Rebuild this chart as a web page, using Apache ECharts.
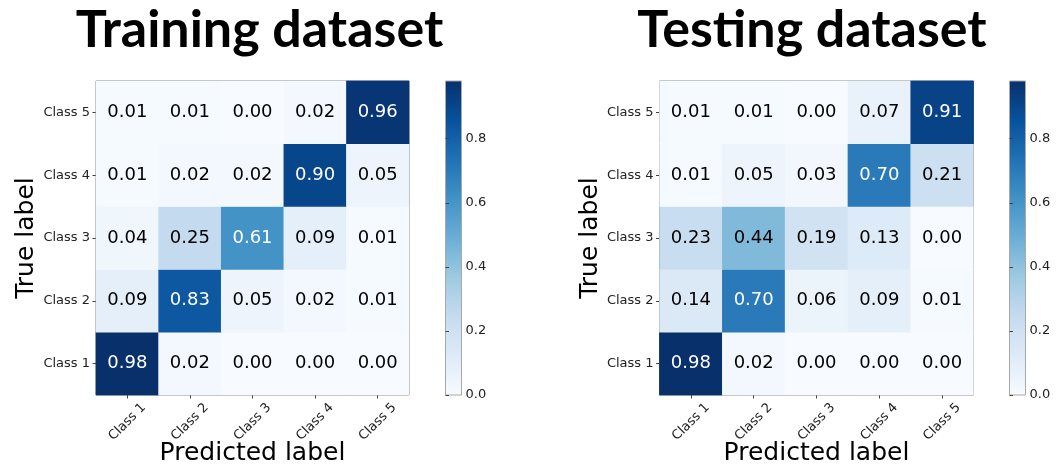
<!DOCTYPE html>
<html>
<head>
<meta charset="utf-8">
<script src="https://cdn.jsdelivr.net/npm/echarts@6/dist/echarts.min.js"></script>
<style>html,body{margin:0;padding:0;background:#fff;}#c{width:1061px;height:466px;}</style>
</head>
<body>
<div id="c"></div>
<script>
const classes = ['Class 1', 'Class 2', 'Class 3', 'Class 4', 'Class 5'];
// rows = true label (Class 1 first), columns = predicted label
const trainMatrix = [
  [0.98, 0.02, 0.00, 0.00, 0.00],
  [0.09, 0.83, 0.05, 0.02, 0.01],
  [0.04, 0.25, 0.61, 0.09, 0.01],
  [0.01, 0.02, 0.02, 0.90, 0.05],
  [0.01, 0.01, 0.00, 0.02, 0.96]
];
const testMatrix = [
  [0.98, 0.02, 0.00, 0.00, 0.00],
  [0.14, 0.70, 0.06, 0.09, 0.01],
  [0.23, 0.44, 0.19, 0.13, 0.00],
  [0.01, 0.05, 0.03, 0.70, 0.21],
  [0.01, 0.01, 0.00, 0.07, 0.91]
];
const colorbarTicks = [0, 0.2, 0.4, 0.6, 0.8];
const colorMin = 0;
const colorMax = 0.98;
const titles = ['Training dataset', 'Testing dataset'];
const xName = 'Predicted label';
const yName = 'True label';

const blues = ['#f7fbff','#deebf7','#c6dbef','#9ecae1','#6baed6','#4292c6','#2171b5','#08519c','#08306b'];
const FONT = 'DejaVu Sans';

function toData(m) {
  const out = [];
  const thresh = colorMax / 2;
  m.forEach((row, yi) => row.forEach((v, xi) => {
    out.push({ value: [xi, yi, v], label: { color: v > thresh ? '#ffffff' : '#000000' } });
  }));
  return out;
}

const chart = echarts.init(document.getElementById('c'), null, { renderer: 'canvas' });
const grad = new echarts.graphic.LinearGradient(0, 1, 0, 0,
  blues.map((c, i) => ({ offset: i / (blues.length - 1), color: c })));

const plotGrids = [
  { left: 96, top: 81, width: 313, height: 314 },
  { left: 659.5, top: 81, width: 314, height: 314 }
];
const cbGrids = [
  { left: 445.5, top: 81, width: 16, height: 314 },
  { left: 1009.5, top: 81, width: 16, height: 314 }
];

const grid = [], xAxis = [], yAxis = [], series = [], graphic = [];
[trainMatrix, testMatrix].forEach((m, k) => {
  const pg = plotGrids[k];
  grid.push(Object.assign({ show: true, outerBoundsMode: 'none', containLabel: false, borderColor: '#6e6e6e', borderWidth: 1, backgroundColor: 'transparent' }, pg));
  grid.push(Object.assign({ show: true, outerBoundsMode: 'none', containLabel: false, borderColor: '#a8a8a8', borderWidth: 1, backgroundColor: grad }, cbGrids[k]));
  const gi = k * 2;
  xAxis.push({
    type: 'category', data: classes, gridIndex: gi, position: 'bottom',
    axisLine: { show: false },
    axisTick: { show: true, alignWithLabel: true, length: 3.5, lineStyle: { color: '#444' } },
    axisLabel: { rotate: 45, align: 'center', verticalAlign: 'middle', fontFamily: FONT, fontSize: 13, color: '#222', margin: 27 },
    splitLine: { show: false }, splitArea: { show: false }
  });
  yAxis.push({
    type: 'category', data: classes, gridIndex: gi,
    name: yName, nameLocation: 'middle', nameGap: 55, nameRotate: 90,
    nameTextStyle: { fontFamily: FONT, fontSize: 25, color: '#000' },
    axisLine: { show: false },
    axisTick: { show: true, alignWithLabel: true, length: 3.5, lineStyle: { color: '#444' } },
    axisLabel: { fontFamily: FONT, fontSize: 13, color: '#222', margin: 6 },
    splitLine: { show: false }, splitArea: { show: false }
  });
  xAxis.push({ type: 'value', gridIndex: gi + 1, show: false, min: 0, max: 1 });
  yAxis.push({
    type: 'value', gridIndex: gi + 1, position: 'right', min: colorMin, max: colorMax,
    axisLine: { show: false },
    axisTick: { show: true, length: 3.5, customValues: colorbarTicks, lineStyle: { color: '#444' } },
    axisLabel: { customValues: colorbarTicks, formatter: v => v.toFixed(1), fontFamily: FONT, fontSize: 13, color: '#222', margin: 4 },
    splitLine: { show: false }
  });
  series.push({
    type: 'heatmap', xAxisIndex: gi, yAxisIndex: gi, data: toData(m),
    label: { show: true, fontFamily: FONT, fontSize: 18, formatter: p => p.value[2].toFixed(2) },
    emphasis: { disabled: true }, itemStyle: { borderWidth: 0 }
  });
  graphic.push({ type: 'text', x: pg.left + pg.width / 2, y: 453,
    style: { text: xName, font: '25px "DejaVu Sans"', fill: '#000', align: 'center', verticalAlign: 'middle' } });
});

graphic.push(
  { type: 'text', x: 259.5, y: 30, style: { text: titles[0], font: 'bold 52px Lato', fill: '#000', align: 'center', verticalAlign: 'middle' } },
  { type: 'text', x: 812, y: 30, style: { text: titles[1], font: 'bold 52px Lato', fill: '#000', align: 'center', verticalAlign: 'middle' } }
);

chart.setOption({
  animation: false,
  backgroundColor: '#ffffff',
  grid, xAxis, yAxis, series, graphic,
  visualMap: {
    type: 'continuous', show: false, min: colorMin, max: colorMax, dimension: 2,
    seriesIndex: [0, 1], inRange: { color: blues }
  }
});
</script>
</body>
</html>
